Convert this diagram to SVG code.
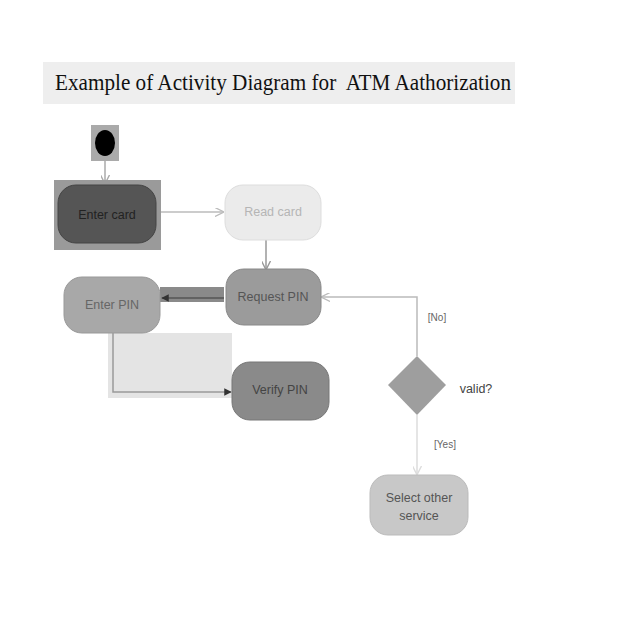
<svg xmlns="http://www.w3.org/2000/svg" width="640" height="640" viewBox="0 0 640 640">
<style>
.lbl{font-family:"Liberation Sans",Arial,sans-serif;font-size:12.5px;text-anchor:middle}
.small{font-size:10px}
.title{font-family:"Liberation Serif","Times New Roman",serif;font-size:23px;fill:#111;white-space:pre}
.conn{fill:none;stroke-width:1.5}
</style>
<defs>
<marker id="arr" viewBox="0 0 10 10" refX="9" refY="5" markerWidth="6" markerHeight="6" orient="auto-start-reverse">
<path d="M0,0 L10,5 L0,10" fill="none" stroke="context-stroke" stroke-width="1.5"/>
</marker>
<marker id="arrD" viewBox="0 0 10 10" refX="9" refY="5" markerWidth="5" markerHeight="5" orient="auto-start-reverse">
<path d="M0,0 L10,5 L0,10 z" fill="#333"/>
</marker>
</defs>
<rect width="640" height="640" fill="#ffffff"/>
<g id="title">
<rect x="43" y="62" width="472" height="42" fill="#eeeeee"/>
<text class="title" x="55" y="90" textLength="456" lengthAdjust="spacingAndGlyphs" xml:space="preserve">Example of Activity Diagram for  ATM Aathorization</text>
</g>
<g id="connectors">
<rect x="160" y="287" width="64" height="15" fill="#8a8a8a"/>
<rect x="108" y="333" width="124" height="65" fill="#e4e4e4"/>
<line class="conn" x1="105" y1="156" x2="105" y2="183" stroke="#aaaaaa" marker-end="url(#arr)"/>
<line class="conn" x1="157" y1="212" x2="223" y2="212" stroke="#bbbbbb" marker-end="url(#arr)"/>
<line class="conn" x1="266" y1="240" x2="266" y2="269" stroke="#999999" marker-end="url(#arr)"/>
<line class="conn" x1="224" y1="298" x2="162" y2="298" stroke="#555555" stroke-width="2" marker-end="url(#arrD)"/>
<polyline class="conn" points="113,333 113,392 231,392" stroke="#999999" marker-end="url(#arrD)"/>
<polyline class="conn" points="417,356 417,297 322,297" stroke="#bbbbbb" marker-end="url(#arr)"/>
<line class="conn" x1="417" y1="415" x2="417" y2="474" stroke="#dddddd" marker-end="url(#arr)"/>
</g>
<g id="start">
<rect x="91" y="125" width="28" height="36" fill="#aaaaaa"/>
<ellipse cx="105" cy="143" rx="10" ry="13" fill="#000000"/>
</g>
<g id="enter-card">
<rect x="54" y="180" width="107" height="70" fill="#9a9a9a"/>
<rect x="58" y="185" width="98" height="58" rx="18" fill="#555555" stroke="#444" stroke-width="1"/>
<text class="lbl" x="107" y="219" fill="#222222">Enter card</text>
</g>
<g id="read-card">
<rect x="225" y="185" width="96" height="55" rx="18" fill="#ebebeb" stroke="#dddddd"/>
<text class="lbl" x="273" y="216" fill="#b5b5b5">Read card</text>
</g>
<g id="request-pin">
<rect x="226" y="269" width="95" height="56" rx="18" fill="#9b9b9b" stroke="#888"/>
<text class="lbl" x="273" y="301" fill="#555555">Request PIN</text>
</g>
<g id="enter-pin">
<rect x="64" y="277" width="96" height="56" rx="18" fill="#a8a8a8" stroke="#999"/>
<text class="lbl" x="112" y="309" fill="#666666">Enter PIN</text>
</g>
<g id="verify-pin">
<rect x="232" y="362" width="97" height="58" rx="18" fill="#8a8a8a" stroke="#777"/>
<text class="lbl" x="280" y="394" fill="#444444">Verify PIN</text>
</g>
<g id="decision">
<polygon points="417,356 446,385 417,415 388,385" fill="#9e9e9e"/>
<text class="lbl" x="476" y="393" fill="#444444">valid?</text>
<text class="lbl small" x="437" y="321" fill="#666666">[No]</text>
<text class="lbl small" x="445" y="448" fill="#666666">[Yes]</text>
</g>
<g id="select-other">
<rect x="370" y="475" width="98" height="60" rx="18" fill="#c8c8c8" stroke="#bbb"/>
<text class="lbl" x="419" y="502" fill="#555555">Select other</text>
<text class="lbl" x="419" y="520" fill="#555555">service</text>
</g>
</svg>
